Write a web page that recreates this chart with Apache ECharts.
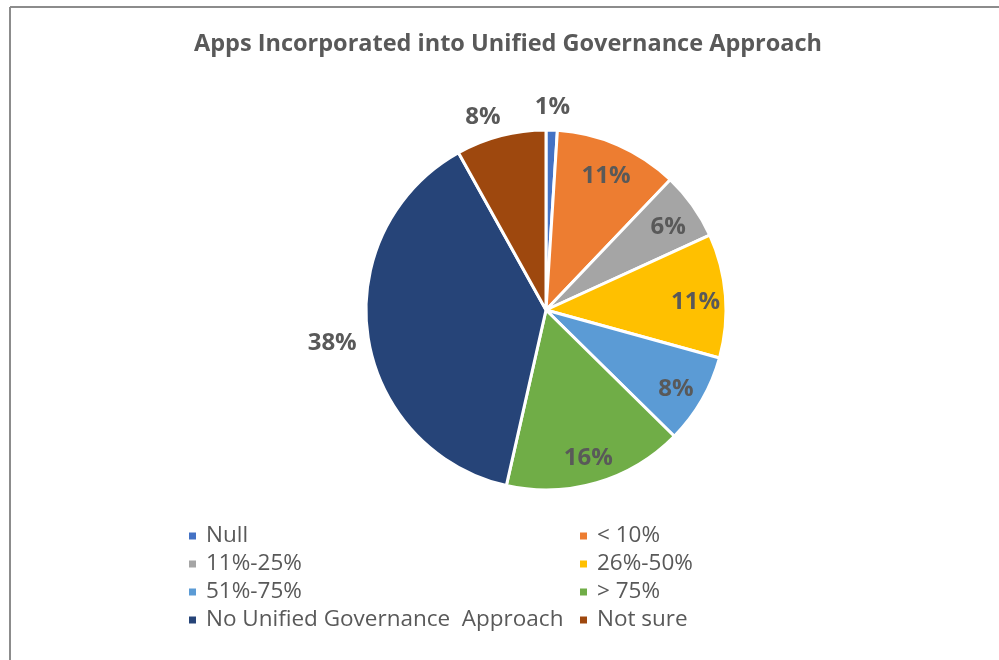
<!DOCTYPE html>
<html>
<head>
<meta charset="utf-8">
<script src="https://cdn.jsdelivr.net/npm/echarts@6/dist/echarts.min.js"></script>
<style>html,body{margin:0;padding:0;background:#fff;}#c{width:999px;height:660px;}</style>
</head>
<body>
<div id="c"></div>
<script>
const titleText = 'Apps Incorporated into Unified Governance Approach';
const categories = ['Null', '< 10%', '11%-25%', '26%-50%', '51%-75%', '> 75%', 'No Unified Governance  Approach', 'Not sure'];
const values = [1, 11, 6, 11, 8, 16, 38, 8];
const colors = ['#4472C4', '#ED7D31', '#A5A5A5', '#FFC000', '#5B9BD5', '#70AD47', '#264478', '#9E480E'];
const topOutsideNames = ['Null', 'Not sure'];
const sideOutsideNames = ['No Unified Governance  Approach'];
const legendLeftNames = ['Null', '11%-25%', '51%-75%', 'No Unified Governance  Approach'];
const legendRightNames = ['< 10%', '26%-50%', '> 75%', 'Not sure'];

const chart = echarts.init(document.getElementById('c'), null, {renderer: 'canvas'});
const labelStyle = {fontFamily: 'Open Sans', fontWeight: 'bold', fontSize: 24, color: '#595959', formatter: '{c}%'};
const center = [546, 310];
const isOutside = n => topOutsideNames.indexOf(n) >= 0 || sideOutsideNames.indexOf(n) >= 0;

const pieData = categories.map((n, i) => ({name: n, value: values[i], itemStyle: {color: colors[i]}}));
const innerLabelData = categories.map((n, i) => ({name: n, value: values[i], label: {show: !isOutside(n)}}));
const topLabelData = categories.map((n, i) => ({
  name: n, value: values[i],
  label: {show: topOutsideNames.indexOf(n) >= 0, offset: n === 'Not sure' ? [-12, 4] : [0, 0]}
}));
const sideLabelData = categories.map((n, i) => ({name: n, value: values[i], label: {show: sideOutsideNames.indexOf(n) >= 0}}));

const legendCommon = {
  orient: 'vertical', top: 517, itemWidth: 9, itemHeight: 9, itemGap: 0, icon: 'rect',
  textStyle: {fontFamily: 'Open Sans', fontSize: 22.5, color: '#595959', lineHeight: 28, padding: [0, 0, 0, 4]},
  selectedMode: false
};

const ringBase = {
  type: 'pie', center: center, startAngle: 90, clockwise: true, silent: true,
  itemStyle: {color: 'rgba(0,0,0,0)', borderWidth: 0},
  labelLine: {show: false}, emphasis: {disabled: true}
};

chart.setOption({
  animation: false,
  backgroundColor: '#ffffff',
  title: {
    text: titleText, left: 508, textAlign: 'center', top: 32, padding: 0,
    textStyle: {fontFamily: 'Open Sans', fontWeight: 'bold', fontSize: 23.5, color: '#595959'}
  },
  legend: [
    Object.assign({}, legendCommon, {left: 182, data: legendLeftNames}),
    Object.assign({}, legendCommon, {left: 573, data: legendRightNames})
  ],
  graphic: [
    {type: 'line', shape: {x1: 10, y1: 7, x2: 999, y2: 7}, style: {stroke: '#8c8c8c', lineWidth: 2}, silent: true},
    {type: 'line', shape: {x1: 10, y1: 7, x2: 10, y2: 660}, style: {stroke: '#8c8c8c', lineWidth: 2}, silent: true}
  ],
  series: [
    {
      type: 'pie', center: center, radius: [0, 180], startAngle: 90, clockwise: true,
      data: pieData, label: {show: false}, labelLine: {show: false},
      itemStyle: {borderColor: '#ffffff', borderWidth: 3},
      emphasis: {disabled: true}
    },
    Object.assign({}, ringBase, {
      radius: [114, 180], data: innerLabelData,
      label: Object.assign({position: 'inside', offset: [0, 4]}, labelStyle)
    }),
    Object.assign({}, ringBase, {
      radius: [184, 216], data: topLabelData,
      label: Object.assign({position: 'inside'}, labelStyle)
    }),
    Object.assign({}, ringBase, {
      radius: [198, 228], data: sideLabelData,
      label: Object.assign({position: 'inside', offset: [0, 2]}, labelStyle)
    })
  ]
});
</script>
</body>
</html>
